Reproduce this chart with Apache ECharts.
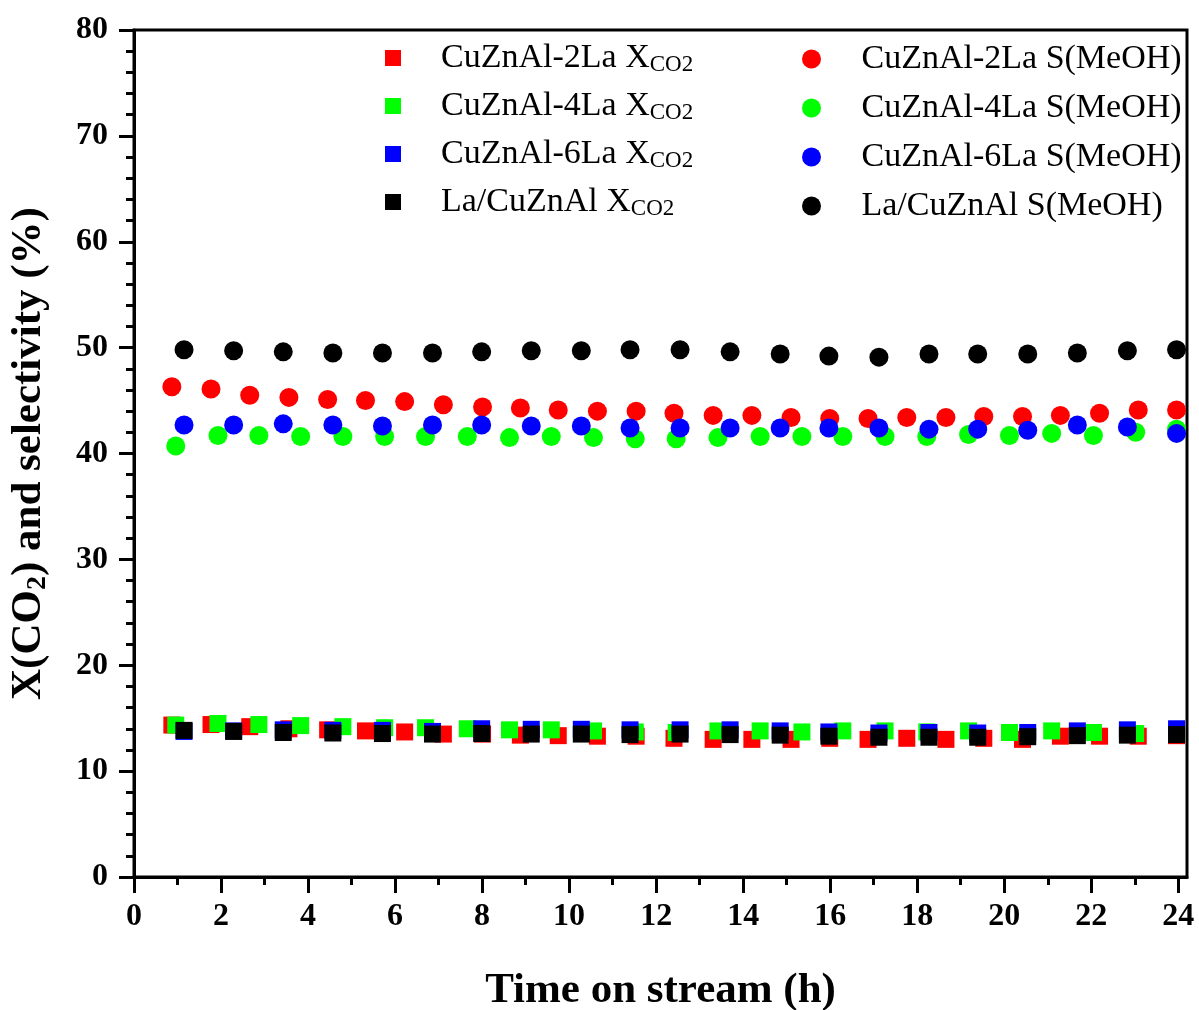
<!DOCTYPE html>
<html>
<head>
<meta charset="utf-8">
<script src="https://cdn.jsdelivr.net/npm/echarts@6/dist/echarts.min.js"></script>
<style>
html,body{margin:0;padding:0;background:#fff;}
#chart{width:1199px;height:1010px;}
</style>
</head>
<body>
<div id="chart"></div>
<script>
// Time on stream (h) for each catalyst
const time2La = [0.87,1.77,2.66,3.56,4.45,5.32,6.22,7.11,8.01,8.88,9.75,10.65,11.54,12.41,13.31,14.20,15.10,15.99,16.87,17.76,18.66,19.53,20.42,21.29,22.19,23.08,23.96];
const time4La = [0.96,1.93,2.87,3.83,4.80,5.76,6.70,7.66,8.63,9.59,10.56,11.52,12.46,13.42,14.39,15.35,16.29,17.26,18.22,19.18,20.12,21.09,22.05,23.02,23.96];
const time6La = [1.15,2.29,3.43,4.57,5.71,6.86,7.99,9.13,10.28,11.40,12.55,13.70,14.85,15.97,17.12,18.27,19.39,20.54,21.68,22.83,23.96];
const timeLaCu = [1.15,2.29,3.43,4.57,5.71,6.86,7.99,9.13,10.28,11.40,12.55,13.70,14.85,15.97,17.12,18.27,19.39,20.54,21.68,22.83,23.96];

// CO2 conversion (%)
const xco2_2La = [14.35,14.4,14.2,14.0,13.9,13.8,13.7,13.5,13.5,13.4,13.35,13.3,13.3,13.1,13.0,13.0,13.0,13.1,13.0,13.1,13.0,13.1,13.0,13.3,13.3,13.3,13.35];
const xco2_4La = [14.35,14.5,14.4,14.3,14.2,14.1,14.1,14.0,13.9,13.9,13.8,13.7,13.65,13.8,13.8,13.7,13.8,13.8,13.7,13.8,13.65,13.8,13.65,13.55,13.6];
const xco2_6La = [13.75,13.8,13.9,13.85,13.85,13.75,14.0,13.95,13.95,13.9,13.9,13.9,13.8,13.7,13.6,13.65,13.6,13.65,13.8,13.9,14.0];
const xco2_LaCu = [13.85,13.75,13.65,13.6,13.55,13.5,13.55,13.5,13.5,13.45,13.5,13.45,13.4,13.3,13.2,13.2,13.2,13.25,13.35,13.4,13.45];

// Methanol selectivity (%)
const sel_2La = [46.3,46.1,45.5,45.3,45.1,45.0,44.9,44.6,44.4,44.3,44.1,44.0,44.0,43.8,43.6,43.6,43.4,43.3,43.3,43.4,43.4,43.5,43.5,43.6,43.8,44.1,44.1];
const sel_4La = [40.7,41.7,41.7,41.6,41.6,41.6,41.6,41.6,41.5,41.6,41.5,41.4,41.4,41.5,41.6,41.6,41.6,41.6,41.6,41.8,41.7,41.9,41.7,42.0,42.3];
const sel_6La = [42.7,42.7,42.8,42.7,42.6,42.7,42.7,42.6,42.6,42.4,42.4,42.4,42.4,42.4,42.4,42.3,42.3,42.2,42.7,42.5,41.9];
const sel_LaCu = [49.8,49.7,49.6,49.5,49.5,49.5,49.6,49.7,49.7,49.8,49.8,49.6,49.4,49.2,49.1,49.4,49.4,49.4,49.5,49.7,49.8];

const catalysts = ['CuZnAl-2La','CuZnAl-4La','CuZnAl-6La','La/CuZnAl'];
const colors = ['#ff0000','#00ff00','#0000ff','#000000'];
const xMajorTicks = [0,2,4,6,8,10,12,14,16,18,20,22,24];
const xMinorTicks = [1,3,5,7,9,11,13,15,17,19,21,23];

const times = [time2La, time4La, time6La, timeLaCu];
const xco2 = [xco2_2La, xco2_4La, xco2_6La, xco2_LaCu];
const sel = [sel_2La, sel_4La, sel_6La, sel_LaCu];

const FONT = 'Liberation Serif, Times New Roman, serif';
const pair = (t, v) => t.map((x, i) => [x, v[i]]);

const series = [];
catalysts.forEach((c, i) => {
  series.push({
    name: c + ' XCO2', type: 'scatter', symbol: 'rect', symbolSize: 17,
    itemStyle: { color: colors[i], opacity: 1 }, data: pair(times[i], xco2[i]), z: 2 + i
  });
});
catalysts.forEach((c, i) => {
  series.push({
    name: c + ' S(MeOH)', type: 'scatter', symbol: 'circle', symbolSize: 19,
    itemStyle: { color: colors[i], opacity: 1 }, data: pair(times[i], sel[i]), z: 2 + i
  });
});

const chart = echarts.init(document.getElementById('chart'), null, { renderer: 'canvas' });
const axisLine = { show: true, lineStyle: { color: '#000', width: 3 } };
chart.setOption({
  backgroundColor: '#fff',
  animation: false,
  grid: { left: 134, right: 12, top: 30, bottom: 133, outerBoundsMode: 'none', containLabel: false,
          show: true, borderColor: '#000', borderWidth: 3, backgroundColor: 'transparent' },
  legend: [
    {
      orient: 'vertical', left: 380, top: 36, itemGap: 13,
      itemWidth: 86, itemHeight: 16, icon: 'path://M0 0H10V10H0Z', symbolKeepAspect: true,
      data: catalysts.map(c => c + ' XCO2'),
      formatter: n => '{m|' + n.replace(' XCO2', ' X') + '}{s|CO2}',
      textStyle: {
        fontFamily: FONT, fontSize: 34, color: '#000',
        rich: {
          m: { fontFamily: FONT, fontSize: 34, color: '#000', lineHeight: 36 },
          s: { fontFamily: FONT, fontSize: 23, color: '#000', lineHeight: 15, verticalAlign: 'bottom' }
        }
      }
    },
    {
      orient: 'vertical', left: 797, top: 36, itemGap: 13,
      itemWidth: 90, itemHeight: 19, icon: 'circle',
      data: catalysts.map(c => c + ' S(MeOH)'),
      textStyle: { fontFamily: FONT, fontSize: 34, color: '#000', lineHeight: 36 }
    }
  ],
  xAxis: [
    {
      type: 'value', min: 0, max: 24.2, position: 'bottom',
      name: 'Time on stream (h)', nameLocation: 'middle', nameGap: 92,
      nameTextStyle: { fontFamily: FONT, fontSize: 43, fontWeight: 'bold', color: '#000' },
      axisLine: axisLine,
      axisTick: { show: true, inside: false, length: 16, lineStyle: { color: '#000', width: 3 }, customValues: xMajorTicks },
      axisLabel: { fontFamily: FONT, fontSize: 32, fontWeight: 'bold', color: '#000', margin: 24, customValues: xMajorTicks },
      splitLine: { show: false }, minorTick: { show: false }
    },
    {
      type: 'value', min: 0, max: 24.2, position: 'bottom',
      axisLine: { show: false },
      axisTick: { show: true, inside: false, length: 8, lineStyle: { color: '#000', width: 3 }, customValues: xMinorTicks },
      axisLabel: { show: false },
      splitLine: { show: false }
    }
  ],
  yAxis: {
    type: 'value', min: 0, max: 80, interval: 10,
    name: '{m|X(CO}{s|2}{m|) and selectivity (%)}', nameLocation: 'middle', nameGap: 82, nameRotate: 90,
    nameTextStyle: {
      fontFamily: FONT, fontSize: 43, fontWeight: 'bold', color: '#000',
      rich: {
        m: { fontFamily: FONT, fontSize: 43, fontWeight: 'bold', color: '#000', lineHeight: 46 },
        s: { fontFamily: FONT, fontSize: 28, fontWeight: 'bold', color: '#000', lineHeight: 22, verticalAlign: 'bottom' }
      }
    },
    axisLine: axisLine,
    axisTick: { show: true, inside: false, length: 15, lineStyle: { color: '#000', width: 3 } },
    minorTick: { show: true, splitNumber: 5, length: 8, lineStyle: { color: '#000', width: 3 } },
    axisLabel: { fontFamily: FONT, fontSize: 32, fontWeight: 'bold', color: '#000', margin: 26 },
    splitLine: { show: false }
  },
  series: series
});
</script>
</body>
</html>
